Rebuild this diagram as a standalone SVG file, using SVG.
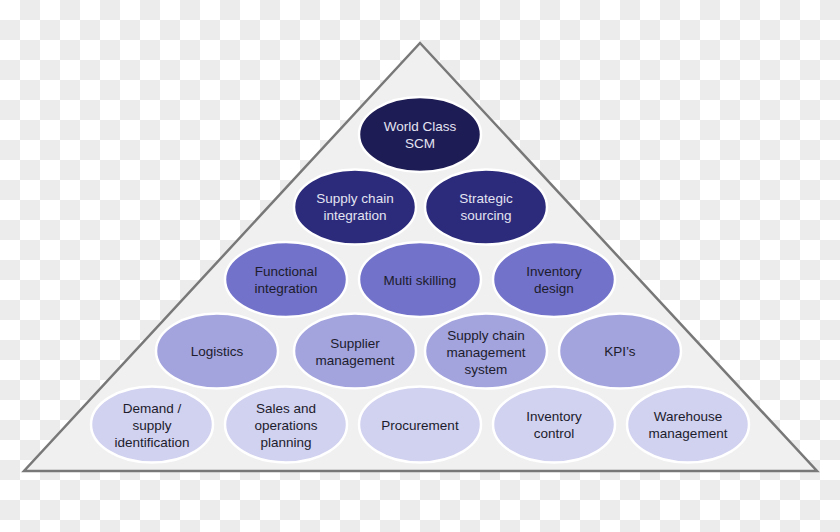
<svg xmlns="http://www.w3.org/2000/svg" width="840" height="532" viewBox="0 0 840 532">
<defs>
<pattern id="checker" x="0" y="0" width="40" height="40" patternUnits="userSpaceOnUse">
<rect width="40" height="40" fill="#ffffff"/>
<rect x="20" y="0" width="20" height="20" fill="#ececec"/>
<rect x="0" y="20" width="20" height="20" fill="#ececec"/>
</pattern>
</defs>
<style>
.node ellipse{stroke:#ffffff;stroke-width:2.5}
.l1 ellipse{fill:#1e1c54}
.l2 ellipse{fill:#2b2a7b}
.l3 ellipse{fill:#7272ca}
.l4 ellipse{fill:#a3a3de}
.l5 ellipse{fill:#d1d1f0}
text{font-family:"Liberation Sans",Arial,sans-serif;font-size:13.5px;text-anchor:middle}
.l1 text,.l2 text{fill:#e4e4f2}
.l3 text,.l4 text,.l5 text{fill:#1c1c2c}
</style>
<rect width="840" height="532" fill="url(#checker)"/>
<polygon id="pyramid" points="420,43 817,471 24,471" fill="#f0f0f0" stroke="#787878" stroke-width="2.5" stroke-linejoin="miter"/>
<g id="connectors"/>
<g id="n-world" class="node l1"><ellipse cx="420" cy="134.5" rx="61" ry="37.5"/><text x="420" y="131">World Class</text><text x="420" y="148">SCM</text></g>
<g id="n-sci" class="node l2"><ellipse cx="355" cy="207" rx="61" ry="37.5"/><text x="355" y="203">Supply chain</text><text x="355" y="220">integration</text></g>
<g id="n-ss" class="node l2"><ellipse cx="486" cy="207" rx="61" ry="37.5"/><text x="486" y="203">Strategic</text><text x="486" y="220">sourcing</text></g>
<g id="n-fi" class="node l3"><ellipse cx="286" cy="279.5" rx="61" ry="37.5"/><text x="286" y="276">Functional</text><text x="286" y="293">integration</text></g>
<g id="n-ms" class="node l3"><ellipse cx="420" cy="279.5" rx="61" ry="37.5"/><text x="420" y="284.5">Multi skilling</text></g>
<g id="n-id" class="node l3"><ellipse cx="554" cy="279.5" rx="61" ry="37.5"/><text x="554" y="276">Inventory</text><text x="554" y="293">design</text></g>
<g id="n-log" class="node l4"><ellipse cx="217" cy="351" rx="61" ry="37.5"/><text x="217" y="356">Logistics</text></g>
<g id="n-sm" class="node l4"><ellipse cx="355" cy="351" rx="61" ry="37.5"/><text x="355" y="347.5">Supplier</text><text x="355" y="364.5">management</text></g>
<g id="n-scms" class="node l4"><ellipse cx="486" cy="351" rx="61" ry="37.5"/><text x="486" y="340">Supply chain</text><text x="486" y="357">management</text><text x="486" y="374">system</text></g>
<g id="n-kpi" class="node l4"><ellipse cx="620" cy="351" rx="61" ry="37.5"/><text x="620" y="356">KPI’s</text></g>
<g id="n-dsi" class="node l5"><ellipse cx="152" cy="424.5" rx="61" ry="38"/><text x="152" y="413">Demand /</text><text x="152" y="430">supply</text><text x="152" y="447">identification</text></g>
<g id="n-sop" class="node l5"><ellipse cx="286" cy="424.5" rx="61" ry="38"/><text x="286" y="413">Sales and</text><text x="286" y="430">operations</text><text x="286" y="447">planning</text></g>
<g id="n-proc" class="node l5"><ellipse cx="420" cy="424.5" rx="61" ry="38"/><text x="420" y="429.5">Procurement</text></g>
<g id="n-ic" class="node l5"><ellipse cx="554" cy="424.5" rx="61" ry="38"/><text x="554" y="421">Inventory</text><text x="554" y="438">control</text></g>
<g id="n-wm" class="node l5"><ellipse cx="688" cy="424.5" rx="61" ry="38"/><text x="688" y="421">Warehouse</text><text x="688" y="438">management</text></g>
</svg>
